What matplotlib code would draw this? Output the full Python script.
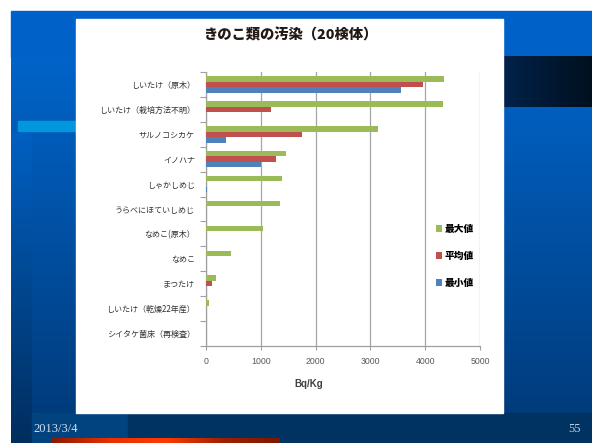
import numpy as np
import matplotlib
matplotlib.use('Agg')
import matplotlib.pyplot as plt
from matplotlib.colors import LinearSegmentedColormap
from matplotlib.patches import Rectangle

plt.rcParams['font.family'] = ['Noto Sans CJK JP', 'DejaVu Sans']

# contamination of mushrooms (Bq/Kg), 20 samples
categories = ['しいたけ（原木）', 'しいたけ（栽培方法不明）', 'サルノコシカケ', 'イノハナ',
              'しゃかしめじ', 'うらべにほていしめじ', 'なめこ(原木）', 'なめこ', 'まつたけ',
              'しいたけ（乾燥22年産）', 'シイタケ菌床（再検査）']
max_vals = [4350, 4330, 3130, 1455, 1378, 1345, 1035, 465, 184, 48, 0]
mean_vals = [3960, 1192, 1750, 1270, 0, 0, 0, 0, 102, 0, 0]
min_vals = [3565, 0, 360, 1012, 12, 0, 0, 0, 0, 0, 0]
series_names = ['最大値', '平均値', '最小値']
series_colors = ['#9BBB59', '#C0504D', '#4F81BD']
xticks = [0, 1000, 2000, 3000, 4000, 5000]

W, H = 592, 443
fig = plt.figure(figsize=(W / 100, H / 100), dpi=100)
fig.patch.set_facecolor('white')

# slide background in pixel coordinates
bg = fig.add_axes([0, 0, 1, 1])
bg.set_xlim(0, W)
bg.set_ylim(H, 0)
bg.axis('off')


def vgrad(ax, x0, x1, y0, y1, c_top, c_bot, horizontal=False):
    cmap = LinearSegmentedColormap.from_list('g', [c_top, c_bot])
    ramp = np.linspace(0, 1, 256)
    arr = ramp[np.newaxis, :] if horizontal else ramp[:, np.newaxis]
    ax.imshow(arr, cmap=cmap, extent=[x0, x1, y1, y0], aspect='auto',
              interpolation='bicubic', zorder=1)


bg.add_patch(Rectangle((11, 11), W - 11, 46, color='#0062C8', zorder=1))
vgrad(bg, 11, W, 56, 413, '#0064CA', '#003C7C')
vgrad(bg, 11, 32, 133, 443, '#0060C2', '#002E5E')
bg.add_patch(Rectangle((32, 413), 96, 30, color='#00437F', zorder=2))
bg.add_patch(Rectangle((128, 413), W - 128, 30, color='#003262', zorder=2))
vgrad(bg, 503, W, 56, 107, '#00224A', '#00101E', horizontal=True)
bg.add_patch(Rectangle((18, 121), 60, 10, color='#0097DC', zorder=2))
red = LinearSegmentedColormap.from_list('r', ['#8B1A00', '#E83000', '#FF3A00', '#A02000', '#7A1800'])
bg.imshow(np.linspace(0, 1, 256)[np.newaxis, :], cmap=red, extent=[52, 280, 443, 438],
          aspect='auto', zorder=2)
bg.add_patch(Rectangle((76, 19), 427, 394, color='white', zorder=3))

fig.text(33 / W, 1 - 429 / H, '2013/3/4', family='Liberation Serif', fontsize=9,
         color='#D8DFEA', va='center', ha='left')
fig.text(581 / W, 1 - 429 / H, '55', family='Liberation Serif', fontsize=9,
         color='#C8D0DE', va='center', ha='right')

fig.text(290 / W, 1 - 35 / H, 'きのこ類の汚染（20検体）', fontsize=10.3, fontweight='black',
         color='#231815', ha='center', va='center')

# chart
ax = fig.add_axes([206 / W, 1 - 346 / H, 274 / W, 274 / H])
ax.set_facecolor('none')
y = np.arange(len(categories))
bh = 0.667 / 3
for vals, name, col, off in zip([max_vals, mean_vals, min_vals], series_names,
                                series_colors, [-bh, 0, bh]):
    ax.barh(y + off, vals, height=bh, color=col, label=name, zorder=3)

ax.set_xlim(0, 5000)
ax.set_ylim(len(categories) - 0.5, -0.5)
ax.set_xticks(xticks)
ax.set_xticklabels([str(t) for t in xticks], fontsize=6.3, color='#595959',
                   family=['Liberation Sans', 'DejaVu Sans'])
ax.set_yticks(y)
ax.set_yticklabels(categories, fontsize=5.8, color='#333333')
ax.set_yticks(np.arange(-0.5, len(categories)), minor=True)
ax.tick_params(axis='y', which='major', length=0, pad=8)
ax.tick_params(axis='y', which='minor', length=4, color='#A0A0A0', width=0.8)
ax.tick_params(axis='x', length=3, color='#A0A0A0', width=0.8, pad=5)
ax.grid(axis='x', color='#A6A6A6', linewidth=0.9, zorder=0)
for s in ['top', 'right']:
    ax.spines[s].set_visible(False)
for s in ['left', 'bottom']:
    ax.spines[s].set_color('#A0A0A0')
    ax.spines[s].set_linewidth(0.9)

fig.text(309 / W, 1 - 384 / H, 'Bq/Kg', fontsize=7, fontweight='bold', color='#404040',
         ha='center', va='center', family=['Liberation Sans', 'DejaVu Sans'])

leg = ax.legend(loc='upper left', bbox_to_anchor=((431 - 206) / 274, 1 - (219 - 72) / 274),
                frameon=False, prop={'size': 7, 'weight': 'black'}, handlelength=0.65,
                handleheight=0.65, handletextpad=0.25, labelspacing=1.75, borderpad=0)

fig.savefig('out.png', dpi=100, facecolor=fig.get_facecolor())
